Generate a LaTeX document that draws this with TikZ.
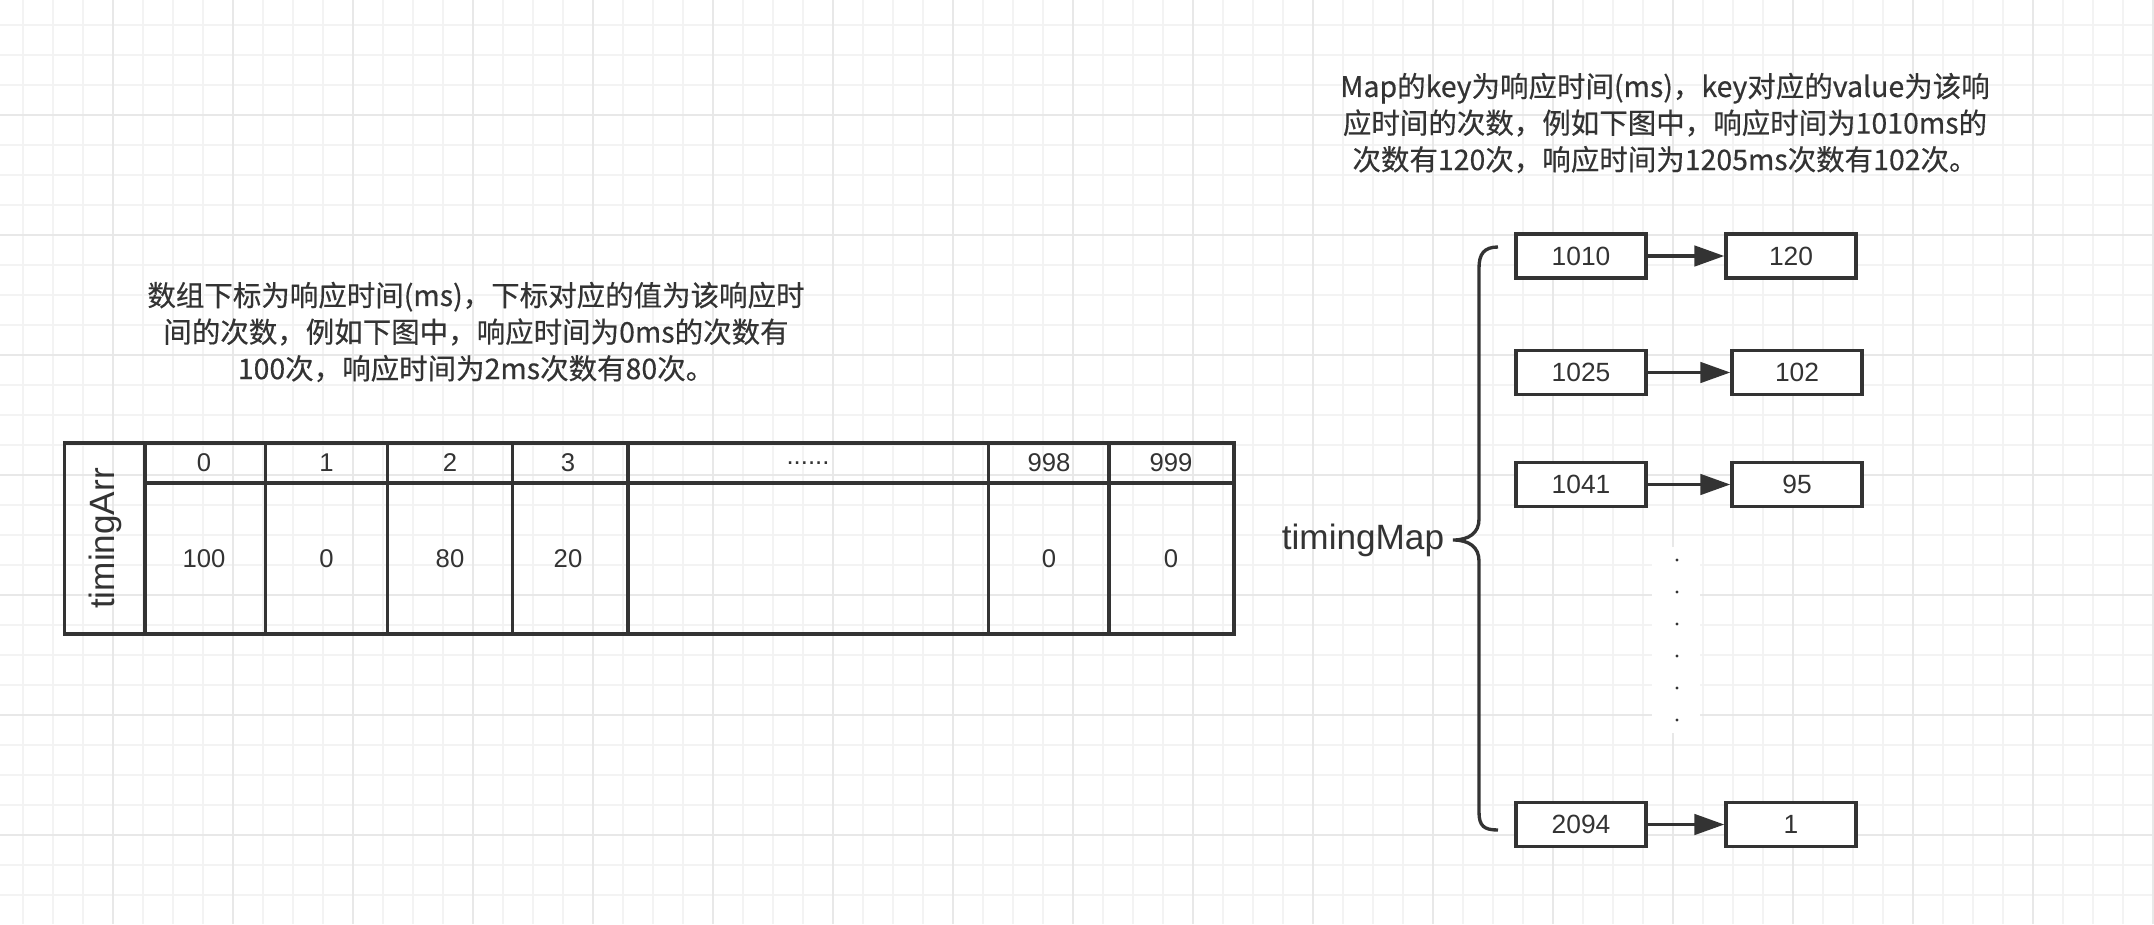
\documentclass[tikz,border=0pt]{standalone}
\usepackage{fontspec}
\usetikzlibrary{arrows.meta}
\setmainfont{Liberation Sans}
\newfontfamily\cjk[FakeBold=0.4]{Noto Sans CJK SC}
\definecolor{ink}{HTML}{333333}
\definecolor{gridlo}{HTML}{F3F3F3}
\definecolor{gridhi}{HTML}{E8E8E8}

\tikzset{
  num/.style={text=ink, font=\fontsize{7.3}{8}\selectfont},
  biglbl/.style={text=ink, font=\fontsize{10}{12}\selectfont},
  note/.style={text=ink, align=center, font=\cjk\fontsize{8.1}{10.4}\selectfont},
  mapbox/.style={draw=ink, fill=white, minimum width=1.30cm, minimum height=0.44cm,
    inner sep=0pt, text=ink, font=\fontsize{7.5}{8}\selectfont},
  link/.style={draw=ink, -{Triangle[length=8.5pt,width=5.8pt]}},
}

\begin{document}
\begin{tikzpicture}[x=0.01cm, y=-0.01cm, line width=0.95pt]
	\useasboundingbox (0,0) rectangle (2154,924);
	\fill[white] (0,0) rectangle (2154,924);
	% background grid
	\foreach \x in {23.3,53.3,...,2154} \draw[gridlo, line width=0.55pt] (\x,0) -- (\x,924);
	\foreach \y in {25,55,...,924} \draw[gridlo, line width=0.55pt] (0,\y) -- (2154,\y);
	\foreach \x in {112.7,232.7,...,2154} \draw[gridhi, line width=0.6pt] (\x,0) -- (\x,924);
	\foreach \y in {115,235,...,924} \draw[gridhi, line width=0.6pt] (0,\y) -- (2154,\y);
	% array note
	\node[note] (arrnote) at (476,332) {数组下标为响应时间(ms)，下标对应的值为该响应时\\间的次数，例如下图中，响应时间为0ms的次数有\\100次，响应时间为2ms次数有80次。};
	% array table
	\draw[ink] (64.7,443) rectangle (1234,634); % frame
	\draw[ink] (145,483) -- (1234,483); % index row
	\foreach \x in {145,265.6,387.5,512.5,628,988.5,1109} \draw[ink] (\x,443) -- (\x,634); % columns
	\node[biglbl, rotate=90] (arr) at (105,538.5) {timingArr};
	% indices and values
	\foreach \n/\x/\i/\v in {0/204/0/100, 1/326.5/1/0, 2/450/2/80, 3/568/3/20, 5/1049/998/0, 6/1171/999/0} {
		\node[num] (i\n) at (\x,463) {\i};
		\node[num] (v\n) at (\x,558.5) {\v};
	}
	\node[num] (i4) at (808,463) {......};
	% map note
	\node[note] (mapnote) at (1665,123) {Map的key为响应时间(ms)，key对应的value为该响\\应时间的次数，例如下图中，响应时间为1010ms的\\次数有120次，响应时间为1205ms次数有102次。};
	% map label and brace
	\node[biglbl] (map) at (1363,540) {timingMap};
	\coordinate (bracetop) at (1498,247);
	\coordinate (bracetip) at (1453,540);
	\coordinate (bracebot) at (1498,830);
	\draw[ink] (bracetop) .. controls (1484,247) and (1479,254) .. (1479,268) -- (1479,519)
		.. controls (1479,533) and (1469,540) .. (bracetip)
		.. controls (1469,540) and (1479,547) .. (1479,561) -- (1479,812)
		.. controls (1479,826) and (1484,830) .. (bracebot);
	% entries
	\node[mapbox] (k1) at (1581,256) {1010};
	\node[mapbox] (v1) at (1791,256) {120};
	\node[mapbox] (k2) at (1581,372.5) {1025};
	\node[mapbox] (v2) at (1797,372.5) {102};
	\node[mapbox] (k3) at (1581,484.5) {1041};
	\node[mapbox] (v3) at (1797,484.5) {95};
	\node[mapbox] (k4) at (1581,824.5) {2094};
	\node[mapbox] (v4) at (1791,824.5) {1};
	\foreach \n in {1,...,4} \draw[link] (k\n) -- (v\n);
	% skipped entries
	\node[fill=white, minimum width=0.48cm, minimum height=1.86cm, inner sep=0pt] (gap) at (1676,640) {};
	\foreach \y in {560,592,...,720} \fill[ink] (1677,\y) circle (0.45pt);
\end{tikzpicture}
\end{document}
